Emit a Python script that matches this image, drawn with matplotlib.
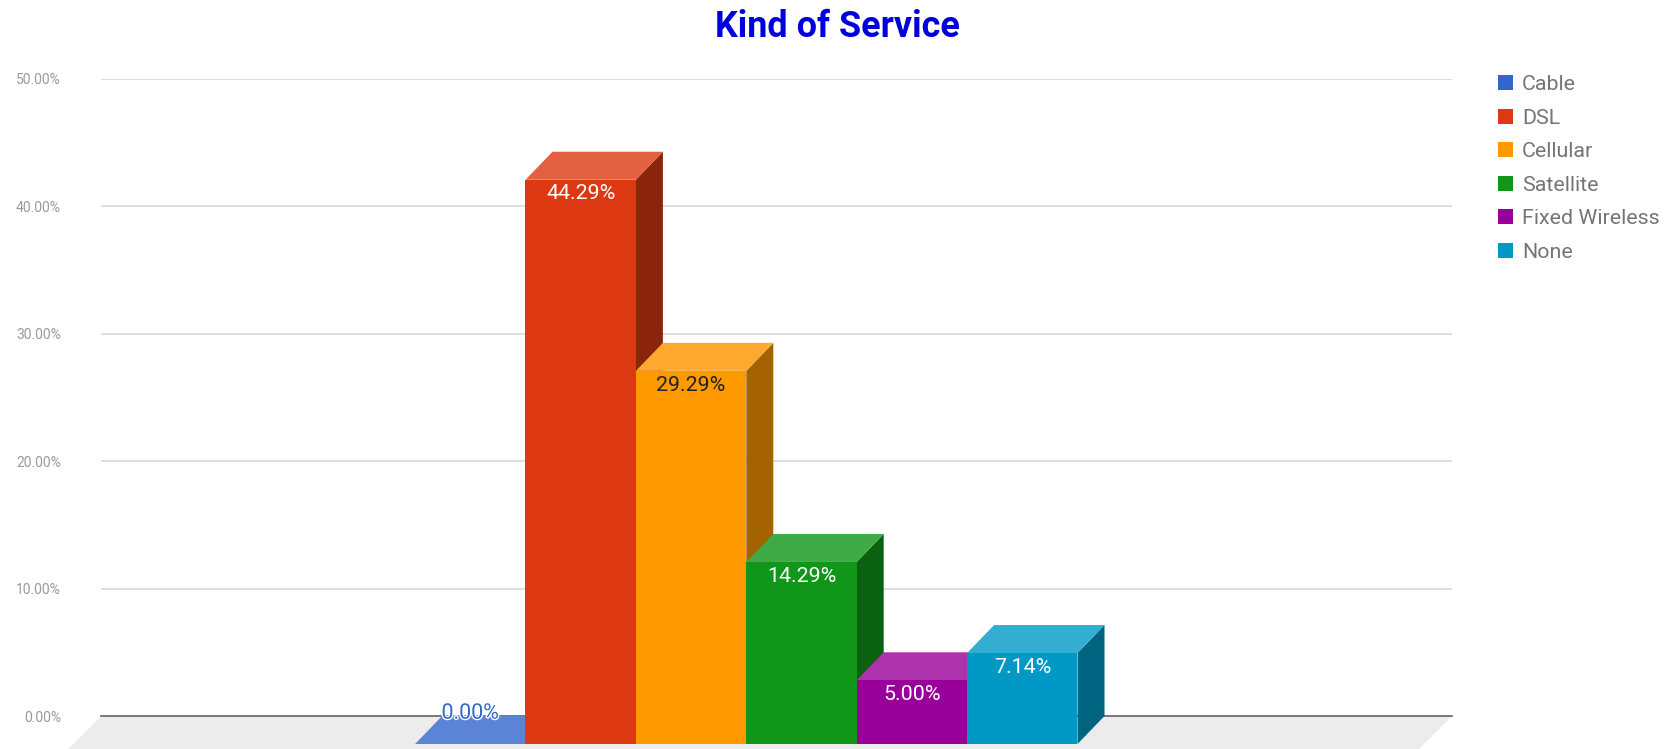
import matplotlib
matplotlib.use('Agg')
import matplotlib.pyplot as plt
import matplotlib.patheffects as pe
from matplotlib.patches import Patch, Polygon

# Kind of Service: google-style 3D column chart, one bar per service type

#=====================================================================
#     Data
#
categories = ['Cable', 'DSL', 'Cellular', 'Satellite', 'Fixed Wireless', 'None']
values     = [0.00, 44.29, 29.29, 14.29, 5.00, 7.14]
frontCols  = ['#3366cc', '#dc3912', '#ff9900', '#109618', '#990099', '#0099c6']
topCols    = ['#5b84d6', '#e36140', '#ffa92f', '#3fab46', '#ad33ad', '#33add1']
sideCols   = ['#1f3d7a', '#8a240b', '#a56300', '#0a610f', '#630063', '#00637f']
textCols   = ['#3366cc', '#ffffff', '#222222', '#ffffff', '#ffffff', '#ffffff']
yTicks     = [0, 10, 20, 30, 40, 50]
yLabels    = ['0.00%', '10.00%', '20.00%', '30.00%', '40.00%', '50.00%']
#=====================================================================

#=====================================================================
#     Layout (pixels in a 1673x749 figure)
#
W, H   = 1673, 749
left   = 101.4
right  = 1452
top    = 79
base   = 716
barPx  = 110.4         # One category slot
firstC = 470.3         # Centre of first bar
depthX = 27            # 3D offset, sideways
depthY = 28            # 3D offset, upwards
floorB = 33            # Floor depth below the back edge
#=====================================================================

plt.rcParams['font.family'] = ['Roboto', 'DejaVu Sans']

fig = plt.figure(figsize=(W/100, H/100), dpi=100, facecolor='white')
ax  = fig.add_axes([left/W, (H-base)/H, (right-left)/W, (base-top)/H])

xLow = (left  - firstC)/barPx
xUpp = (right - firstC)/barPx
ax.set_xlim(xLow, xUpp)
ax.set_ylim(0, 50)

dx = depthX/barPx
dy = depthY*50./(base-top)
fy = floorB*50./(base-top)
fx = floorB/barPx

# Floor
ax.add_patch(Polygon([(xLow, 0), (xUpp, 0), (xUpp-fx, -fy), (xLow-fx, -fy)],
                     closed=True, fc='#ececec', ec='none', clip_on=False, zorder=1))

ax.set_axisbelow(True)
ax.yaxis.grid(True, color='#d4d4d4', lw=1.1)
ax.axhline(0, color='#666666', lw=1.2, clip_on=False, zorder=2)

for i, v in enumerate(values):
    z = 3 + i
    l, r = i - 0.5, i + 0.5
    ax.bar(i, v, width=1.0, bottom=-dy, color=frontCols[i], lw=0, clip_on=False, zorder=z+0.2)
    ax.add_patch(Polygon([(l, v-dy), (r, v-dy), (r+dx, v), (l+dx, v)],
                         closed=True, fc=topCols[i], ec='none', clip_on=False, zorder=z+0.1))
    ax.add_patch(Polygon([(r, -dy), (r+dx, 0), (r+dx, v), (r, v-dy)],
                         closed=True, fc=sideCols[i], ec='none', clip_on=False, zorder=z))

    if v == 0:
        # Nothing to sit inside, so the label floats over the flat bar with a halo
        t = ax.annotate('%.2f%%' % v, (i, v-dy), xytext=(0, 22.2), textcoords='offset points',
                        ha='center', va='center', fontsize=15.4, color=textCols[i], zorder=20,
                        annotation_clip=False)
        t.set_path_effects([pe.withStroke(linewidth=2, foreground='white')])
    else:
        ax.annotate('%.2f%%' % v, (i, v-dy), xytext=(0, -10.2), textcoords='offset points',
                    ha='center', va='center', fontsize=15.4, color=textCols[i], zorder=20,
                    annotation_clip=False)

ax.set_xticks([])
ax.set_yticks(yTicks)
ax.set_yticklabels(yLabels, fontsize=10, color='#9a9a9a')
ax.tick_params(axis='y', length=0, pad=29)
for s in ax.spines.values():
    s.set_visible(False)

fig.text(837/W, 1-27/H, 'Kind of Service', ha='center', va='center',
         fontsize=25.9, fontweight='bold', color='#0000dd')

handles = [Patch(fc=c, ec='none', label=n) for c, n in zip(frontCols, categories)]
ax.legend(handles=handles, loc='upper left', bbox_to_anchor=(1498/W, 1-75/H),
          bbox_transform=fig.transFigure, frameon=False, fontsize=15.4, labelcolor='#757575',
          borderpad=0, borderaxespad=0, handlelength=0.7, handleheight=0.7,
          handletextpad=0.42, labelspacing=0.68)

fig.savefig('out.png', dpi=100)
